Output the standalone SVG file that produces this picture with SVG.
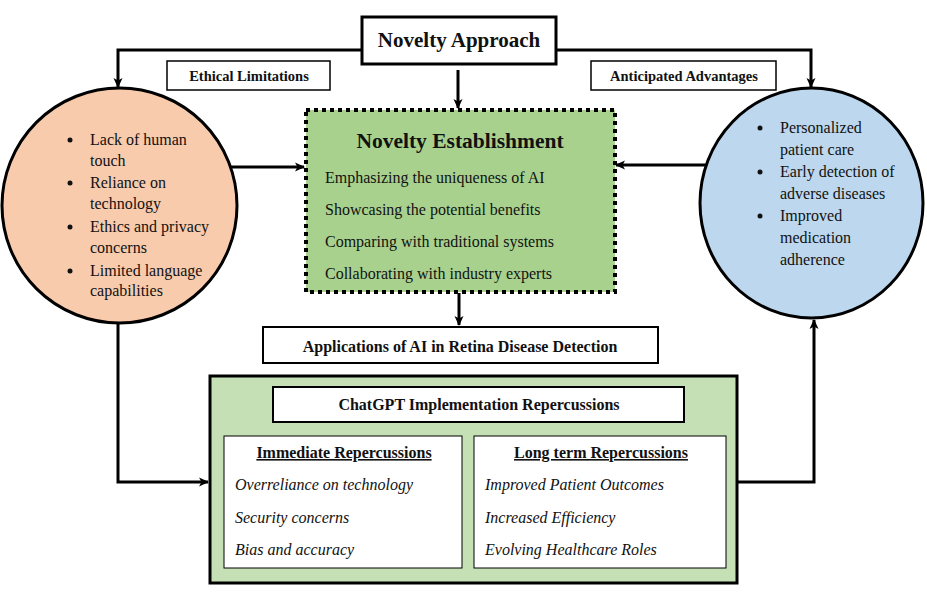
<svg xmlns="http://www.w3.org/2000/svg" width="927" height="595" viewBox="0 0 927 595">
<defs>
<marker id="ah" markerWidth="10" markerHeight="10" refX="9" refY="5" orient="auto" markerUnits="userSpaceOnUse">
<path d="M0,0.5 L10,5 L0,9.5 L2.5,5 Z" fill="#000"/>
</marker>
<style>
text{font-family:"Liberation Serif","Times New Roman",serif;fill:#111}
.b{font-weight:bold}
.lbl{fill:#fff;stroke:#000;stroke-width:2}
.conn{fill:none;stroke:#000;stroke-width:3}
.it{font-style:italic;font-size:16px}
.li{font-size:16px}
</style>
</defs>
<rect width="927" height="595" fill="#fff"/>

<g id="connectors">
<path class="conn" d="M362,50 H118 V87" marker-end="url(#ah)"/>
<path class="conn" d="M556,50 H811 V87" marker-end="url(#ah)"/>
<path class="conn" d="M458,70 V108" marker-end="url(#ah)"/>
<path class="conn" d="M168,167 H304" marker-end="url(#ah)"/>
<path class="conn" d="M722,165 H616" marker-end="url(#ah)"/>
<path class="conn" d="M459,293 V325" marker-end="url(#ah)"/>
<path class="conn" d="M118,323 V482 H208" marker-end="url(#ah)"/>
<path class="conn" d="M738,482 H814 V320" marker-end="url(#ah)"/>
</g>

<g id="novelty-approach">
<rect class="lbl" x="362" y="17" width="194" height="47" style="stroke-width:3"/>
<text class="b" x="459" y="47" font-size="21" text-anchor="middle">Novelty Approach</text>
</g>

<g id="ethical-limitations">
<rect class="lbl" x="167" y="61" width="163" height="29" style="stroke-width:1.5"/>
<text class="b" x="249" y="81" font-size="14.5" text-anchor="middle">Ethical Limitations</text>
</g>

<g id="anticipated-advantages">
<rect class="lbl" x="591" y="61" width="185" height="29" style="stroke-width:1.5"/>
<text class="b" x="684" y="81" font-size="14.5" text-anchor="middle">Anticipated Advantages</text>
</g>

<g id="left-circle">
<ellipse cx="119.5" cy="205.5" rx="117.5" ry="117.5" fill="#f8cbad" stroke="#000" stroke-width="3"/>
<g class="li">
<circle cx="70" cy="140" r="2.5" fill="#111"/>
<text x="90" y="145">Lack of human</text>
<text x="90" y="166">touch</text>
<circle cx="70" cy="183" r="2.5" fill="#111"/>
<text x="90" y="188">Reliance on</text>
<text x="90" y="209">technology</text>
<circle cx="70" cy="227" r="2.5" fill="#111"/>
<text x="90" y="232">Ethics and privacy</text>
<text x="90" y="253">concerns</text>
<circle cx="70" cy="271" r="2.5" fill="#111"/>
<text x="90" y="276">Limited language</text>
<text x="90" y="296">capabilities</text>
</g>
</g>

<g id="right-circle">
<ellipse cx="811.5" cy="203" rx="111.5" ry="115" fill="#bdd7ee" stroke="#000" stroke-width="3"/>
<g class="li">
<circle cx="760" cy="128" r="2.5" fill="#111"/>
<text x="780" y="133">Personalized</text>
<text x="780" y="155">patient care</text>
<circle cx="760" cy="172" r="2.5" fill="#111"/>
<text x="780" y="177">Early detection of</text>
<text x="780" y="199">adverse diseases</text>
<circle cx="760" cy="216" r="2.5" fill="#111"/>
<text x="780" y="221">Improved</text>
<text x="780" y="243">medication</text>
<text x="780" y="265">adherence</text>
</g>
</g>

<g id="novelty-establishment">
<rect x="306" y="110" width="309" height="182" fill="#a9d18e" stroke="#000" stroke-width="4" stroke-dasharray="4 4"/>
<text class="b" x="460" y="148" font-size="21.5" text-anchor="middle">Novelty Establishment</text>
<text class="li" x="325" y="183">Emphasizing the uniqueness of AI</text>
<text class="li" x="325" y="215">Showcasing the potential benefits</text>
<text class="li" x="325" y="247">Comparing with traditional systems</text>
<text class="li" x="325" y="279">Collaborating with industry experts</text>
</g>

<g id="applications">
<rect class="lbl" x="263" y="327" width="395" height="36"/>
<text class="b" x="460" y="352" font-size="16" text-anchor="middle">Applications of AI in Retina Disease Detection</text>
</g>

<g id="chatgpt-repercussions">
<rect x="210" y="376" width="527" height="207" fill="#c5e0b4" stroke="#000" stroke-width="3"/>
<rect class="lbl" x="273" y="387" width="411" height="35"/>
<text class="b" x="479" y="410" font-size="16" text-anchor="middle">ChatGPT Implementation Repercussions</text>
</g>

<g id="immediate">
<rect x="224" y="436" width="238" height="132" fill="#fff" stroke="#000" stroke-width="1"/>
<text class="b" x="344" y="458" font-size="16" text-anchor="middle" text-decoration="underline">Immediate Repercussions</text>
<text class="it" x="235" y="490">Overreliance on technology</text>
<text class="it" x="235" y="523">Security concerns</text>
<text class="it" x="235" y="555">Bias and accuracy</text>
</g>

<g id="long-term">
<rect x="474" y="436" width="252" height="132" fill="#fff" stroke="#000" stroke-width="1"/>
<text class="b" x="601" y="458" font-size="16" text-anchor="middle" text-decoration="underline">Long term Repercussions</text>
<text class="it" x="485" y="490">Improved Patient Outcomes</text>
<text class="it" x="485" y="523">Increased Efficiency</text>
<text class="it" x="485" y="555">Evolving Healthcare Roles</text>
</g>
</svg>
